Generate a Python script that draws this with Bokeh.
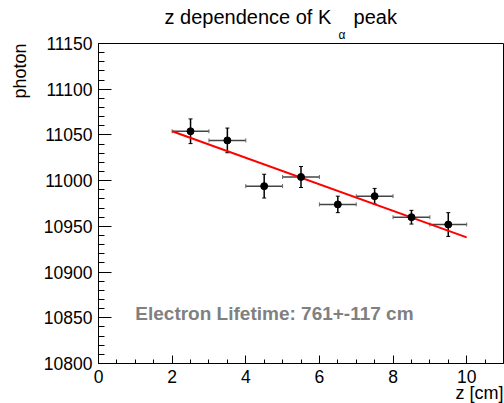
from bokeh.plotting import figure
from bokeh.models import (SingleIntervalTicker, Label, Whisker, ColumnDataSource, TeeHead, Title)
from bokeh.embed import file_html
from bokeh.resources import INLINE

# ---- data ----
z = [2.5, 3.5, 4.5, 5.5, 6.5, 7.5, 8.5, 9.5]
photon = [11054, 11044, 10994, 11004, 10974, 10983, 10960, 10952]
photon_err = [13.5, 13.5, 13, 11.5, 9, 8.5, 7.5, 13]
z_err = [0.5, 0.5, 0.5, 0.5, 0.5, 0.5, 0.5, 0.5]
fit_z = [2, 10]
fit_photon = [11054, 10938]

FONT = "Liberation Sans"

src = ColumnDataSource(dict(
    z=z, y=photon,
    ylo=[v - e for v, e in zip(photon, photon_err)],
    yhi=[v + e for v, e in zip(photon, photon_err)],
    zlo=[a - b for a, b in zip(z, z_err)],
    zhi=[a + b for a, b in zip(z, z_err)],
))

p = figure(width=504, height=403, x_range=(0, 11), y_range=(10800, 11150),
           output_backend="svg", toolbar_location=None,
           min_border_left=97, min_border_right=1, min_border_top=43, min_border_bottom=40)
p.title.visible = False
p.grid.visible = False
p.background_fill_color = "white"
p.border_fill_color = "white"
p.outline_line_color = "black"
p.outline_line_width = 1

# axes
p.xaxis.ticker = SingleIntervalTicker(interval=2, num_minor_ticks=4)
p.yaxis.ticker = SingleIntervalTicker(interval=50, num_minor_ticks=5)
for ax in (p.xaxis[0], p.yaxis[0]):
    ax.axis_line_color = "black"
    ax.axis_line_width = 1
    ax.major_tick_line_color = "black"
    ax.minor_tick_line_color = "black"
    ax.major_tick_out = 0
    ax.minor_tick_out = 0
    ax.major_label_text_font = FONT
    ax.major_label_text_font_size = "17.5px"
    ax.major_label_text_color = "black"
p.yaxis.major_tick_in = 13
p.yaxis.minor_tick_in = 6
p.yaxis.major_label_standoff = 6
p.xaxis.major_tick_in = 8
p.xaxis.minor_tick_in = 4
p.xaxis.major_label_standoff = 6

# fit line
p.line(fit_z, fit_photon, line_color="red", line_width=2)

# error bars
p.add_layout(Whisker(source=src, base="z", lower="ylo", upper="yhi", dimension="height",
                     line_color="black", line_width=1.5,
                     lower_head=TeeHead(size=4, line_color="black", line_width=1),
                     upper_head=TeeHead(size=4, line_color="black", line_width=1)))
p.add_layout(Whisker(source=src, base="y", lower="zlo", upper="zhi", dimension="width",
                     line_color="#444444", line_width=1.5,
                     lower_head=TeeHead(size=4, line_color="#666666", line_width=1),
                     upper_head=TeeHead(size=4, line_color="#666666", line_width=1)))
p.scatter("z", "y", source=src, size=7, color="black")

# annotation text
p.add_layout(Label(x=1.0, y=10855, text="Electron Lifetime: 761+-117 cm",
                   text_font=FONT, text_font_style="bold", text_font_size="19px",
                   text_color="#808080", text_baseline="alphabetic"))

# title (ROOT-like K_alpha): subscript row sits just under the main text row
main_title = Title(text="z dependence of K\u00a0\u00a0\u00a0\u00a0peak", align="left", offset=66,
                   standoff=0, text_font=FONT, text_font_size="20px",
                   text_font_style="normal", text_color="black")
sub_title = Title(text="\u03b1", align="left", offset=240, standoff=0,
                  vertical_align="top", text_font=FONT, text_font_size="12px",
                  text_font_style="normal", text_color="black")
p.add_layout(sub_title, "above")
p.add_layout(main_title, "above")

# axis titles (right/top aligned like ROOT)
p.add_layout(Title(text="photon", align="right", standoff=18, vertical_align="top",
                   text_font=FONT, text_font_size="18px", text_font_style="normal",
                   text_color="black"), "left")
p.add_layout(Title(text="z [cm]", align="right", standoff=-8.5, vertical_align="middle",
                   text_font=FONT, text_font_size="18px", text_font_style="normal",
                   text_color="black"), "below")

open("out.html", "w").write(file_html(p, INLINE))
